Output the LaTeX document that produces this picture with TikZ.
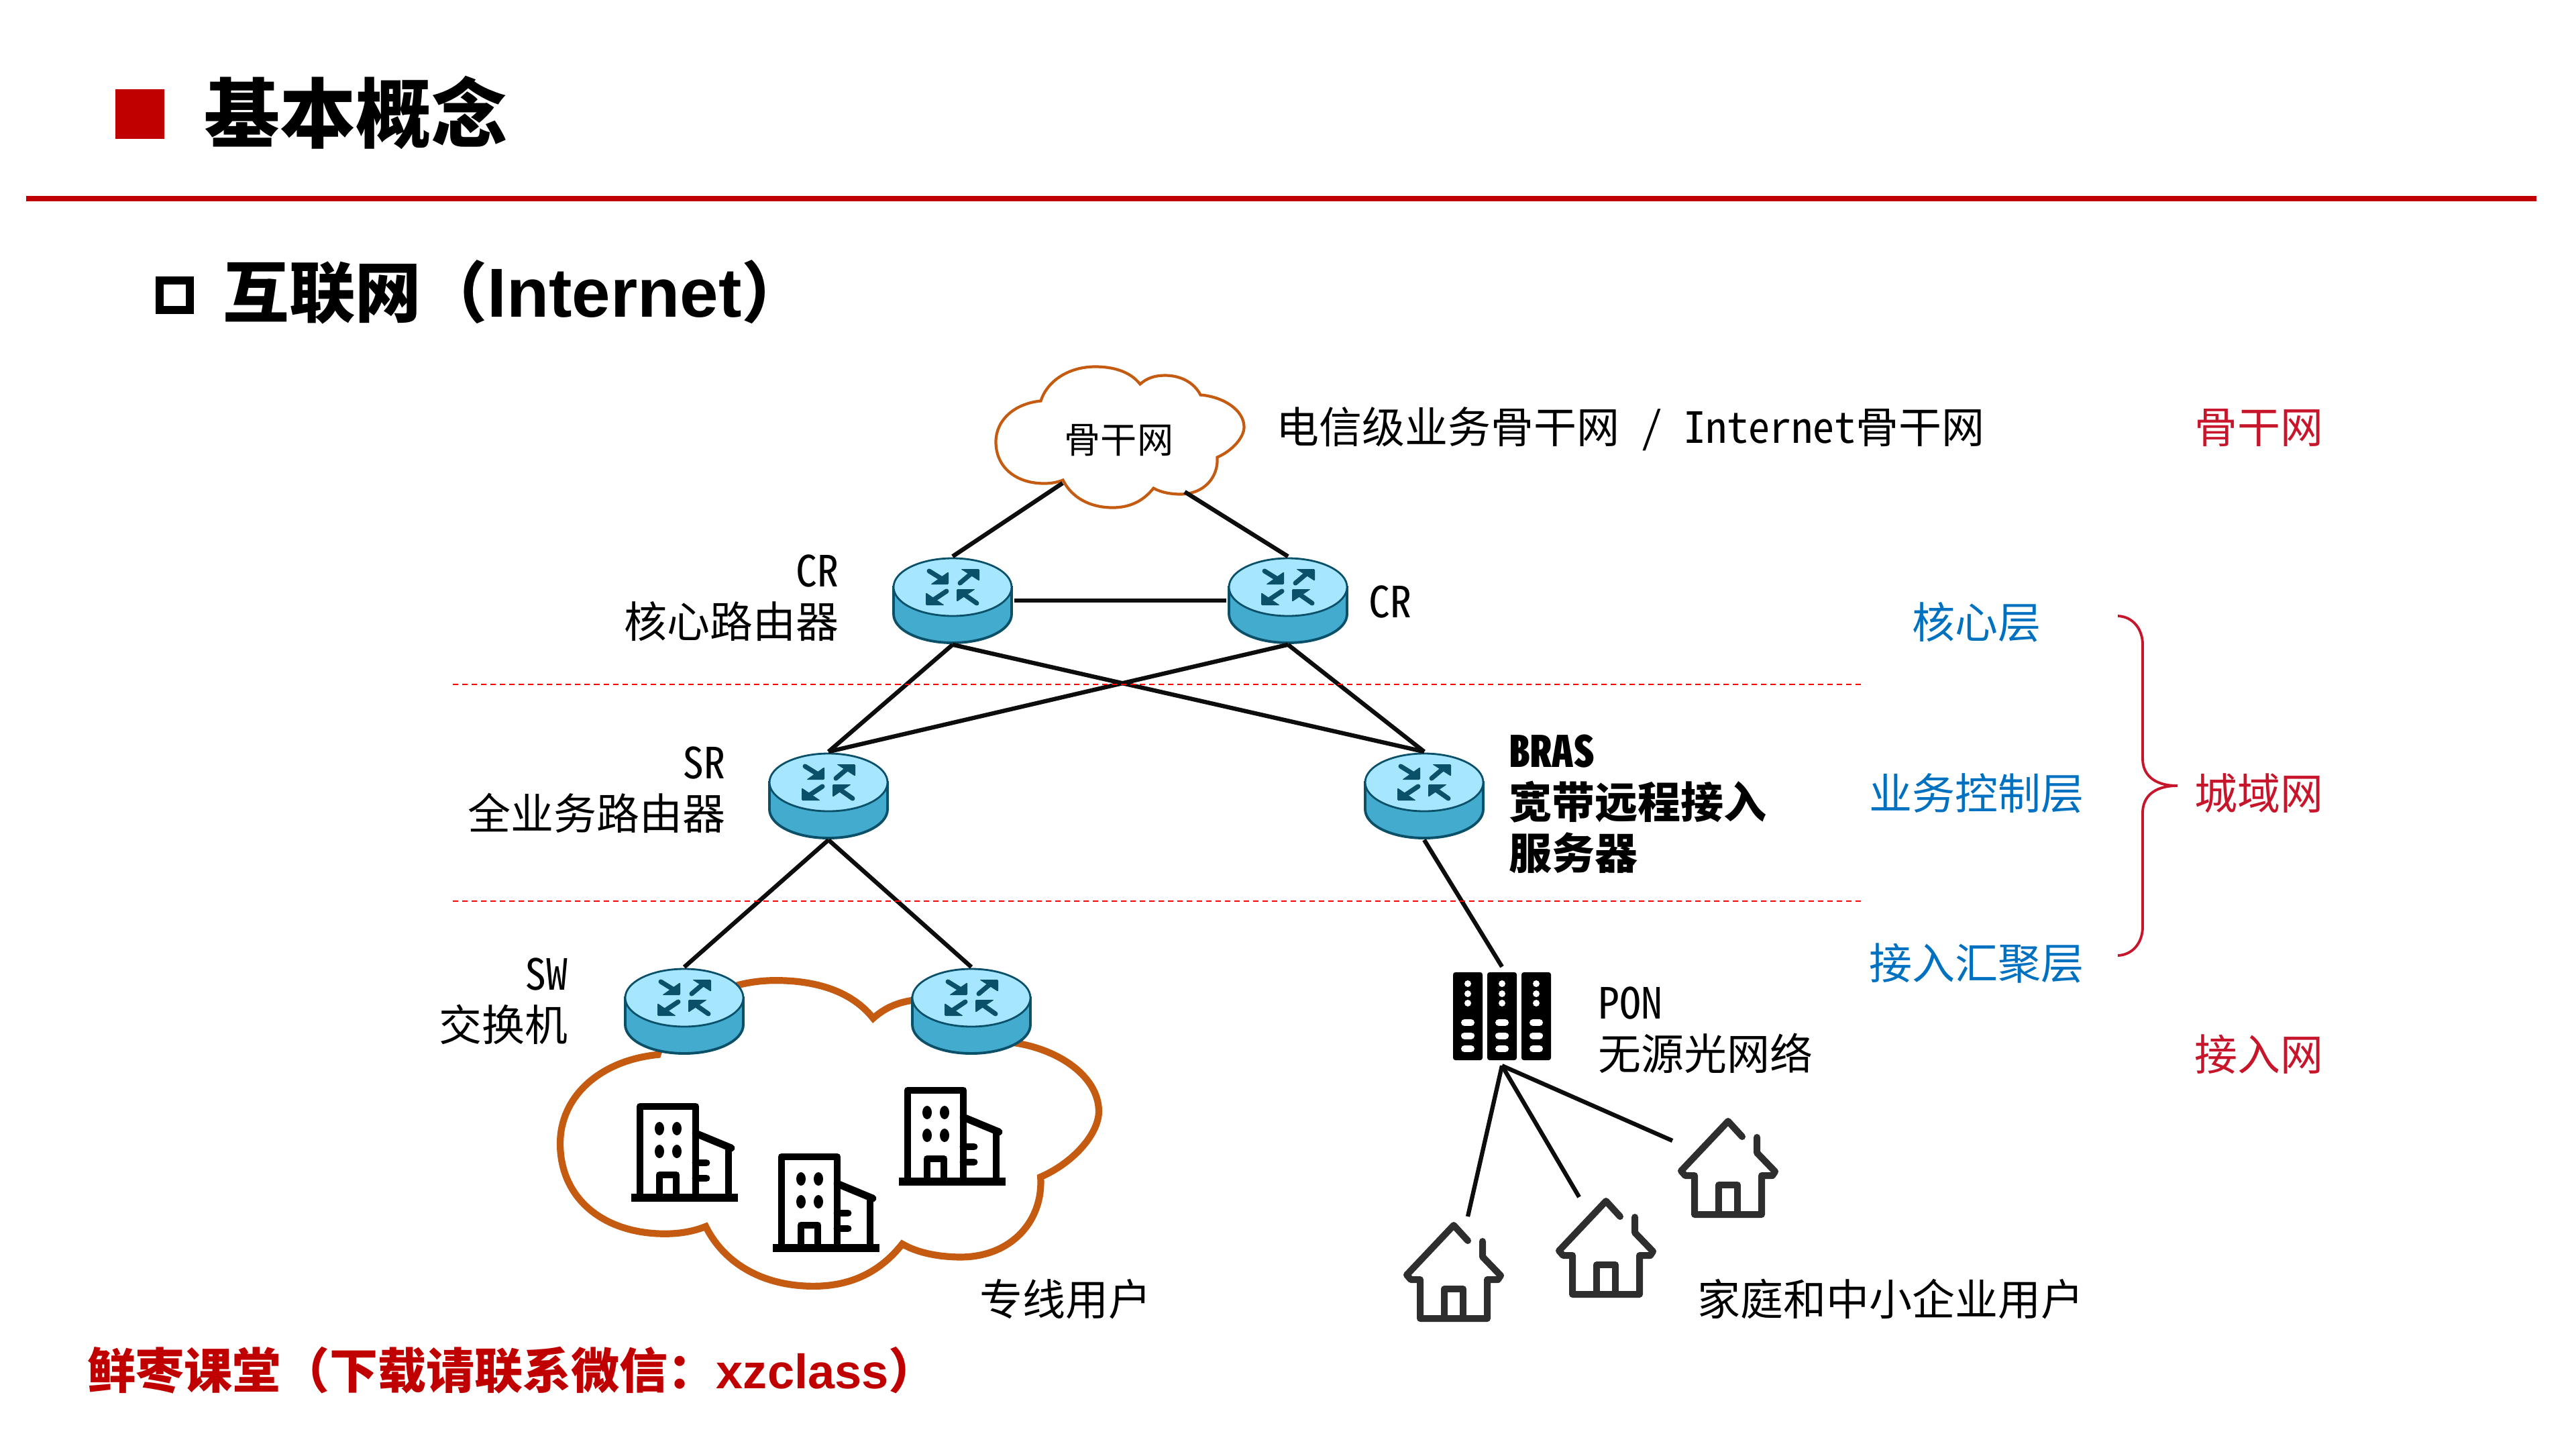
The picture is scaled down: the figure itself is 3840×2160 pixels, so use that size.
\documentclass[tikz,border=0pt]{standalone}
\usepackage{fontspec}
\setmainfont[RawFeature={+hwid}]{Noto Sans CJK SC}
\newfontfamily\propfont{Noto Sans CJK SC}
\newfontfamily\latinfont{Liberation Sans}
\usepackage{tikz}
\usetikzlibrary{positioning}

\definecolor{routertop}{HTML}{A6E6FF}
\definecolor{routerside}{HTML}{42ABCE}
\definecolor{routeredge}{HTML}{0B5069}
\definecolor{cloudline}{HTML}{C55A11}
\definecolor{titlered}{HTML}{C00000}
\definecolor{layerblue}{HTML}{0070C0}
\definecolor{netred}{HTML}{C7162B}
\definecolor{homeline}{HTML}{2E2E2E}

\tikzset{
	routericon/.pic={
		\draw[routeredge, fill=routerside, line width=1.1pt] (-88,-20) -- (-88,20) .. controls (-88,44) and (-49,63) .. (0,63) .. controls (49,63) and (88,44) .. (88,20) -- (88,-20) -- cycle;
		\draw[routeredge, fill=routertop, line width=0.8pt] (0,-20) ellipse[x radius=88, y radius=43];
		\begin{scope}[shift={(0,-20)}]
			\draw[routeredge, line width=2pt, line cap=round] (-35,-24) -- (-14,-11) (11,-6) -- (30,-22) (-9,6) -- (-30,20) (36,24) -- (16,10);
			\fill[routeredge, rounded corners=0.4pt] (-6,-23) -- (-6,-4) -- (-33,-4) -- cycle;
			\fill[routeredge, rounded corners=0.4pt] (12,-27) -- (40,-27) -- (40,-9) -- cycle;
			\fill[routeredge, rounded corners=0.4pt] (-40,27) -- (-40,8) -- (-12,27) -- cycle;
			\fill[routeredge, rounded corners=0.4pt] (6,3) -- (34,3) -- (6,22) -- cycle;
		\end{scope}
	},
	cloudshape/.pic={
		\draw[cloudline, fill=white, line join=miter]
			(-118,-54) .. controls (-108,-85) and (-75,-105) .. (-37,-105)
			.. controls (-10,-105) and (15,-98) .. (30,-79)
			.. controls (40,-88) and (52,-92) .. (67,-92)
			.. controls (90,-92) and (110,-82) .. (120,-63)
			.. controls (155,-60) and (185,-40) .. (185,-15)
			.. controls (185,0) and (168,20) .. (145,30)
			.. controls (147,60) and (125,85) .. (90,85)
			.. controls (78,85) and (62,83) .. (50,76)
			.. controls (35,95) and (15,105) .. (-11,105)
			.. controls (-45,105) and (-72,90) .. (-85,64)
			.. controls (-95,68) and (-105,69) .. (-113,69)
			.. controls (-155,69) and (-185,45) .. (-185,7)
			.. controls (-185,-25) and (-158,-50) .. (-118,-54) -- cycle;
	},
	buildingicon/.pic={
		\fill (0,136) rectangle (159,148);
		\draw[line width=3.1pt, line join=round] (13,136) -- (13,6) -- (96,6) -- (96,136);
		\draw[line width=3.1pt, line join=round] (42,136) -- (42,108) -- (67,108) -- (67,136);
		\draw[line width=3.1pt, line cap=round] (96,46) -- (149,68);
		\draw[line width=2.8pt] (145,68) -- (145,136);
		\draw[line width=3.1pt, line cap=round] (96,90) -- (112,90) (96,113) -- (112,113);
		\foreach \wx in {42,68}
			\foreach \wy in {39,73}
				\fill (\wx,\wy) ellipse[x radius=7, y radius=10];
	},
	homeicon/.pic={
		\draw[homeline, line width=2.85pt, line cap=round, line join=round]
			(21,26) -- (0,3) -- (-70,77) -- (-64,84) -- (-50,84) -- (-50,142) -- (50,142) -- (50,84) -- (66,84) -- (70,78) -- (43,50) -- (43,27);
		\draw[homeline, line width=2.85pt, line join=round] (-14,142) -- (-14,98) -- (14,98) -- (14,142);
	},
	rackicon/.pic={
		\foreach \col in {-73,-22,29} {
			\fill[black, rounded corners=1pt] (\col,-65.5) rectangle (\col+44,65.5);
			\foreach \dy in {-48.5,-33.5,-19.5}
				\fill[white] (\col+22,\dy) circle[radius=5];
			\foreach \py in {9.5,29,48.5}
				\draw[white, line width=2.85pt, line cap=round] (\col+17,\py) -- (\col+27,\py);
		}
	},
}

\begin{document}
\begin{tikzpicture}[
		x=0.01cm, y=-0.01cm,
		routerbox/.style={rectangle, minimum width=1.83cm, minimum height=1.30cm, inner sep=0pt},
		rackbox/.style={rectangle, minimum width=1.46cm, minimum height=1.46cm, inner sep=0pt},
		labeltext/.style={font=\fontsize{18.2}{21.6}\selectfont, inner sep=0pt},
		link/.style={draw=black!95, line width=1.8pt},
		layerline/.style={draw=red, line width=0.57pt, dash pattern=on 2.28pt off 1.71pt},
	]

	\useasboundingbox (0,0) rectangle (3840,2160);

	%Heading
	\fill[titlered] (172,133) rectangle (245,207);
	\node[inner sep=0pt, anchor=west, font=\fontsize{32.1}{36}\selectfont\bfseries] (title) at (304,168) {基本概念};
	\draw[titlered, line width=2.3pt] (39,296) -- (3781,296);
	\draw[black, line width=3.2pt] (238,418) rectangle (283,462);
	\node[inner sep=0pt, anchor=west, font=\fontsize{28}{32}\selectfont\bfseries\propfont] (subtitle) at (332,435) {互联网（{\latinfont\fontsize{29.4}{32}\selectfont Internet}）};

	%Clouds
	\pic[line width=1.2pt] at (1669.5,651.5) {cloudshape};
	\pic[scale=2.17, line width=2.9pt] at (1236.5,1689) {cloudshape};
	\node[labeltext, font=\fontsize{15.4}{18}\selectfont] (backbone) at (1668,656) {骨干网};
	\coordinate (backboneL) at (1584,720);
	\coordinate (backboneR) at (1766,733);

	%Nodes
	\node[routerbox] (cr1)  at (1420,895) {};
	\node[routerbox] (cr2)  at (1920,895) {};
	\node[routerbox] (sr)   at (1235,1186) {};
	\node[routerbox] (bras) at (2123,1186) {};
	\node[routerbox] (sw1)  at (1020,1507) {};
	\node[routerbox] (sw2)  at (1448,1507) {};
	\node[rackbox]   (pon)  at (2239,1514.5) {};
	\foreach \r in {cr1,cr2,sr,bras,sw1,sw2}
		\pic at (\r) {routericon};
	\pic at (pon) {rackicon};

	\pic at (941,1643) {buildingicon};
	\pic at (1152,1718) {buildingicon};
	\pic at (1340,1619) {buildingicon};

	\pic at (2167,1823) {homeicon};
	\pic at (2394,1787) {homeicon};
	\pic at (2576,1668) {homeicon};
	\coordinate (home1) at (2188,1813);
	\coordinate (home2) at (2354,1784);
	\coordinate (home3) at (2493,1700);

	%Lines
	\draw[link] (backboneL) -- (cr1.north);
	\draw[link] (backboneR) -- (cr2.north);
	\draw[link] (cr1.east) -- (cr2.west);
	\draw[link] (cr1.south) -- (sr.north);
	\draw[link] (cr1.south) -- (bras.north);
	\draw[link] (cr2.south) -- (sr.north);
	\draw[link] (cr2.south) -- (bras.north);
	\draw[link] (sr.south) -- (sw1.north);
	\draw[link] (sr.south) -- (sw2.north);
	\draw[link] (bras.south) -- (pon.north);
	\draw[link] (pon.south) -- (home1);
	\draw[link] (pon.south) -- (home2);
	\draw[link] (pon.south) -- (home3);

	%Layer borders
	\coordinate (upperL) at (675,1020);
	\coordinate (upperR) at (2777,1020);
	\coordinate (lowerL) at (675,1343);
	\coordinate (lowerR) at (2779,1343);
	\draw[layerline] (upperL) -- (upperR);
	\draw[layerline] (lowerL) -- (lowerR);

	%Labels
	\node[labeltext, anchor=west] (backbonetext) at (1902,639) {电信级业务骨干网 / Internet骨干网};
	\node[labeltext, align=right, anchor=east] (crlabel) at (1251,891) {CR\\核心路由器};
	\node[labeltext, anchor=west] (crlabelb) at (2040,897) {CR};
	\node[labeltext, align=right, anchor=east] (srlabel) at (1082,1177) {SR\\全业务路由器};
	\node[labeltext, align=left, anchor=west, font=\fontsize{18.2}{21.6}\selectfont\bfseries] (braslabel) at (2249,1198) {BRAS\\宽带远程接入\\服务器};
	\node[labeltext, align=right, anchor=east] (swlabel) at (847,1492) {SW\\交换机};
	\node[labeltext, align=left, anchor=west] (ponlabel) at (2382,1535) {PON\\无源光网络};
	\node[labeltext, anchor=west] (leased) at (1460,1936) {专线用户};
	\node[labeltext, anchor=west] (homes) at (2530,1936) {家庭和中小企业用户};

	\node[labeltext, text=layerblue] (corelayer) at (2946,927) {核心层};
	\node[labeltext, text=layerblue] (ctrllayer) at (2946,1182) {业务控制层};
	\node[labeltext, text=layerblue] (acclayer)  at (2946,1436) {接入汇聚层};
	\node[labeltext, text=netred] (backbonenet) at (3367,638) {骨干网};
	\node[labeltext, text=netred] (metronet)    at (3367,1182) {城域网};
	\node[labeltext, text=netred] (accessnet)   at (3367,1571) {接入网};

	%Brace
	\coordinate (braceT) at (3157,918);
	\coordinate (braceM) at (3246,1171);
	\coordinate (braceB) at (3157,1424);
	\draw[netred, line width=1.1pt] (braceT) .. controls (3180,919) and (3194,938) .. (3194,961) -- (3194,1131) .. controls (3194,1152) and (3208,1171) .. (braceM) .. controls (3208,1171) and (3194,1190) .. (3194,1211) -- (3194,1381) .. controls (3194,1404) and (3180,1423) .. (braceB);

	%Footer
	\node[inner sep=0pt, anchor=west, text=titlered, font=\fontsize{20.5}{24}\selectfont\bfseries\propfont] (footer) at (130,2042) {鲜枣课堂（下载请联系微信：{\latinfont xzclass}）};

\end{tikzpicture}
\end{document}
